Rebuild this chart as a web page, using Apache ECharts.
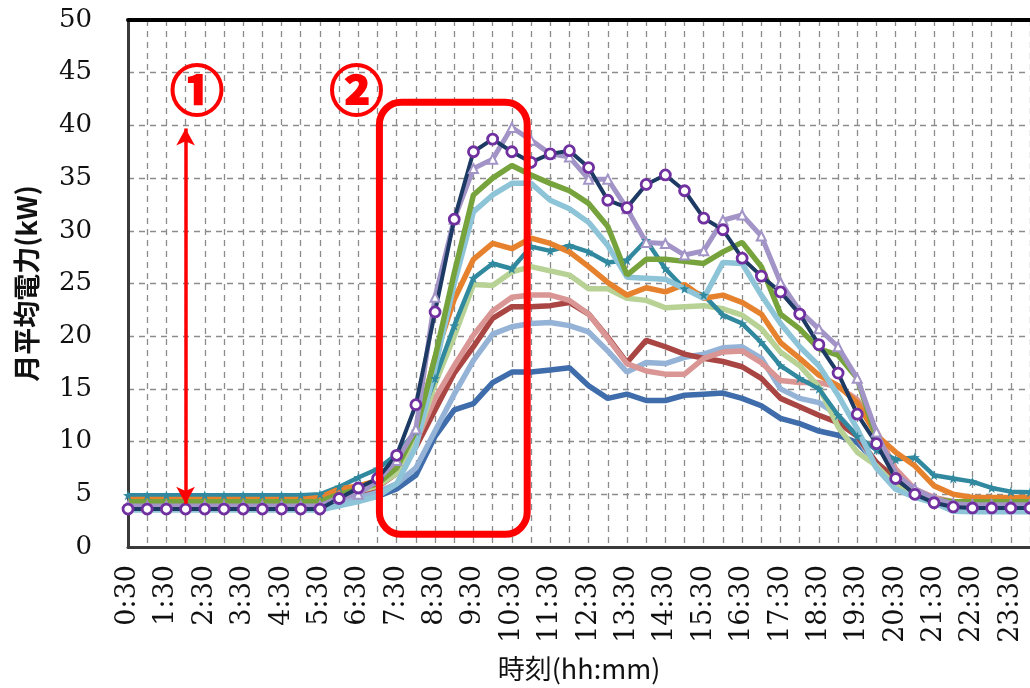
<!DOCTYPE html>
<html>
<head>
<meta charset="utf-8">
<script src="https://cdn.jsdelivr.net/npm/echarts@6/dist/echarts.min.js"></script>
<style>
html, body { margin: 0; padding: 0; background: #fff; }
#chart { width: 1030px; height: 688px; }
</style>
</head>
<body>
<div id="chart"></div>
<script>
// half-hour time slots (0:30 .. 24:00)
const times = ['0:30','1:00','1:30','2:00','2:30','3:00','3:30','4:00','4:30','5:00',
  '5:30','6:00','6:30','7:00','7:30','8:00','8:30','9:00','9:30','10:00',
  '10:30','11:00','11:30','12:00','12:30','13:00','13:30','14:00','14:30','15:00',
  '15:30','16:00','16:30','17:00','17:30','18:00','18:30','19:00','19:30','20:00',
  '20:30','21:00','21:30','22:00','22:30','23:00','23:30','24:00'];

// monthly average power (kW), one line per month
const navy = [3.6,3.6,3.6,3.6,3.6,3.6,3.6,3.6,3.6,3.6, 3.6,4.6,5.6,6.5,8.7,13.5,22.3,31.1,37.5,38.7,
  37.5,36.5,37.3,37.6,36.0,32.9,32.2,34.4,35.3,33.8, 31.2,30.1,27.4,25.7,24.2,22.1,19.2,16.5,12.6,9.8,
  6.5,5.0,4.2,3.8,3.7,3.7,3.7,3.7];
const lavender = [3.9,3.9,3.9,3.9,3.9,3.9,3.9,3.9,3.9,3.9, 3.9,4.7,5.0,6.3,8.2,11.2,23.7,31.1,35.9,36.8,
  39.8,38.6,37.3,37.0,34.9,34.9,32.1,28.9,28.8,27.7, 28.1,31.0,31.5,29.5,25.1,22.4,20.7,19.0,16.0,10.9,
  6.9,5.5,4.6,4.1,4.0,4.0,4.0,4.0];
const green = [4.3,4.3,4.3,4.3,4.3,4.3,4.3,4.3,4.3,4.3, 4.3,5.0,5.5,6.0,7.5,11.0,18.0,26.0,33.4,35.0,
  36.2,35.3,34.5,33.8,32.6,30.4,25.8,27.3,27.3,27.1, 26.9,28.0,28.9,26.6,22.1,20.7,18.8,18.2,16.0,10.3,
  6.5,5.2,4.5,4.3,4.3,4.3,4.3,4.3];
const lightBlue = [3.5,3.5,3.5,3.5,3.5,3.5,3.5,3.5,3.5,3.5, 3.5,3.9,4.3,4.8,6.0,9.5,17.0,25.0,31.8,33.4,
  34.5,34.5,32.9,32.1,30.8,28.6,25.6,25.5,25.4,24.5, 23.6,27.0,26.9,23.9,21.2,19.0,17.2,14.4,11.2,7.5,
  5.5,4.7,4.2,3.4,3.35,3.35,3.35,3.35];
const orange = [4.5,4.5,4.5,4.5,4.5,4.5,4.5,4.5,4.5,4.5, 4.7,5.5,5.8,6.3,7.8,11.0,18.0,23.5,27.3,28.8,
  28.3,29.3,28.8,28.0,26.6,25.1,23.9,24.6,24.2,24.9, 23.6,23.9,23.2,22.1,19.4,17.9,16.3,15.3,13.7,10.6,
  9.0,7.7,5.8,5.0,4.7,4.7,4.7,4.7];
const teal = [4.9,4.9,4.9,4.9,4.9,4.9,4.9,4.9,4.9,4.9, 5.0,5.7,6.6,7.4,8.8,11.0,16.0,21.0,25.5,26.9,
  26.4,28.5,28.1,28.6,28.0,27.0,27.2,29.1,26.4,24.5, 23.9,22.0,21.2,19.4,17.2,16.0,15.0,12.5,10.5,9.2,
  8.3,8.5,6.8,6.5,6.2,5.6,5.25,5.2];
const lightGreen = [4.3,4.3,4.3,4.3,4.3,4.3,4.3,4.3,4.3,4.3, 4.4,4.9,5.3,5.8,7.0,10.0,15.5,20.0,24.9,24.8,
  26.1,26.6,26.2,25.8,24.5,24.5,23.6,23.4,22.7,22.8, 22.9,22.6,22.0,20.7,18.5,17.2,15.2,11.4,9.0,7.7,
  5.8,4.9,4.4,4.2,4.1,4.1,4.1,4.1];
const pink = [4.2,4.2,4.2,4.2,4.2,4.2,4.2,4.2,4.2,4.2, 4.3,4.8,5.3,5.8,7.0,10.0,14.1,17.2,20.1,22.4,
  23.7,23.9,23.9,23.4,22.1,19.8,17.4,16.7,16.4,16.4, 17.9,18.5,18.6,17.5,15.8,15.6,15.6,15.2,14.0,11.0,
  7.4,5.5,4.7,4.3,4.2,4.2,4.2,4.2];
const red = [4.2,4.2,4.2,4.2,4.2,4.2,4.2,4.2,4.2,4.2, 4.3,4.7,5.2,5.7,7.0,9.5,13.0,16.5,19.0,21.7,
  22.8,22.8,22.9,23.2,22.1,19.9,17.5,19.6,19.0,18.3, 17.9,17.6,17.1,16.0,14.1,13.3,12.5,11.8,10.5,8.0,
  6.5,5.0,4.5,4.2,4.2,4.2,4.2,4.2];
const steel = [3.8,3.8,3.8,3.8,3.8,3.8,3.8,3.8,3.8,3.8, 3.9,4.3,4.8,5.2,6.0,7.5,11.0,14.5,17.7,20.2,
  20.9,21.2,21.3,21.0,20.4,18.6,16.6,17.5,17.4,18.0, 18.3,18.9,19.0,17.9,15.0,14.1,13.7,12.5,10.5,7.5,
  5.5,4.8,4.3,4.0,3.9,3.9,3.9,3.9];
const blue = [3.9,3.9,3.9,3.9,3.9,3.9,3.9,3.9,3.9,3.9, 4.0,4.2,4.5,4.8,5.5,6.8,10.5,13.0,13.6,15.6,
  16.6,16.6,16.8,17.0,15.3,14.1,14.5,13.9,13.9,14.4, 14.5,14.6,14.1,13.4,12.2,11.7,11.0,10.6,9.9,8.0,
  6.0,5.0,4.3,4.0,3.9,3.9,3.9,3.9];

let chart = echarts.init(document.getElementById('chart'));

const serif = 'DejaVu Serif';
const gothic = 'Noto Sans CJK JP';
const gridLine = { color: '#8c8c8c', type: [6, 5], width: 1.3 };
const star = 'path://M5,0 L6.2,3.6 L10,3.8 L7,6.1 L8.1,10 L5,7.7 L1.9,10 L3,6.1 L0,3.8 L3.8,3.6 Z';

function line(name, data, color, extra) {
  return Object.assign({
    name: name,
    type: 'line',
    data: data,
    symbol: 'none',
    lineStyle: { color: color, width: 5.5 },
    itemStyle: { color: color },
    emphasis: { disabled: true }
  }, extra || {});
}

chart.setOption({
  animation: false,
  grid: { left: 128, top: 20, width: 904, bottom: 141 },
  xAxis: [{
    type: 'category',
    data: times,
    boundaryGap: false,
    axisLine: { lineStyle: { color: '#3a3a3a', width: 3 } },
    axisTick: { show: false },
    axisLabel: { interval: 1, rotate: 90, margin: 18, fontFamily: serif, fontSize: 27, color: '#111' },
    splitLine: { show: true, interval: 0, lineStyle: gridLine },
    name: '時刻(hh:mm)',
    nameLocation: 'middle',
    nameGap: 108,
    nameTextStyle: { fontFamily: gothic, fontSize: 27, color: '#111' }
  }, {
    type: 'category',
    data: times,
    position: 'top',
    boundaryGap: false,
    axisLine: { lineStyle: { color: '#000', width: 4 } },
    axisTick: { show: false },
    axisLabel: { show: false },
    splitLine: { show: false }
  }],
  yAxis: {
    type: 'value',
    min: 0,
    max: 50,
    interval: 5,
    axisLine: { show: true, lineStyle: { color: '#3a3a3a', width: 3 } },
    axisTick: { show: false },
    axisLabel: { margin: 36, fontFamily: serif, fontSize: 26, color: '#111' },
    splitLine: { lineStyle: gridLine },
    name: '月平均電力(kW)',
    nameLocation: 'middle',
    nameGap: 88,
    nameTextStyle: { fontFamily: gothic, fontSize: 27, fontWeight: 'bold', color: '#111' }
  },
  series: [
    line('blue', blue, '#3F6CAB', {
      markLine: {
        silent: true,
        symbol: ['arrow', 'arrow'],
        symbolSize: [14, 17],
        lineStyle: { color: '#ff0000', width: 3.5, type: 'solid' },
        label: { show: false },
        data: [[{ coord: ['2:00', 4.1] }, { coord: ['2:00', 39.7] }]]
      }
    }),
    line('steel', steel, '#95B3D7'),
    line('red', red, '#A94543'),
    line('pink', pink, '#D99694'),
    line('lightGreen', lightGreen, '#B8D296'),
    line('teal', teal, '#31899F', {
      symbol: star, symbolSize: 10, showAllSymbol: true,
      lineStyle: { color: '#31899F', width: 4.5 }
    }),
    line('orange', orange, '#E6822E'),
    line('lightBlue', lightBlue, '#8DC4D8'),
    line('green', green, '#77A33C'),
    line('lavender', lavender, '#A294C6', {
      symbol: 'triangle', symbolSize: 9, showAllSymbol: true,
      lineStyle: { color: '#A294C6', width: 5 },
      itemStyle: { color: '#fff', borderColor: '#A294C6', borderWidth: 2 }
    }),
    line('navy', navy, '#1C3A63', {
      symbol: 'circle', symbolSize: 10, showAllSymbol: true,
      lineStyle: { color: '#1C3A63', width: 4 },
      itemStyle: { color: '#fff', borderColor: '#7030A0', borderWidth: 2.8 }
    })
  ]
});

// annotation overlay anchored to data coordinates
function px(i, v) {
  let k = Math.floor(i);
  let a = chart.convertToPixel({ gridIndex: 0 }, [k, v]);
  let b = chart.convertToPixel({ gridIndex: 0 }, [k + 1, v]);
  return [a[0] + (i - k) * (b[0] - a[0]), a[1]];
}
let r0 = px(13.1, 42.2);
let r1 = px(20.8, 1.2);
let c1 = px(3.6, 43.3);
let c2 = px(11.9, 43.3);
const numStyle = { fontFamily: gothic, fontWeight: 'bold', fontSize: 54, fill: '#ff0000',
  stroke: '#ff0000', lineWidth: 2, align: 'center', verticalAlign: 'middle' };

chart.setOption({
  graphic: [
    {
      type: 'rect', silent: true, z: 100,
      shape: { x: r0[0], y: r0[1], width: r1[0] - r0[0], height: r1[1] - r0[1], r: 22 },
      style: { fill: 'none', stroke: '#ff0000', lineWidth: 7 }
    },
    { type: 'text', silent: true, z: 100, x: c1[0], y: c1[1], style: Object.assign({ text: '①' }, numStyle) },
    { type: 'text', silent: true, z: 100, x: c2[0], y: c2[1], style: Object.assign({ text: '②' }, numStyle) }
  ]
});
</script>
</body>
</html>
